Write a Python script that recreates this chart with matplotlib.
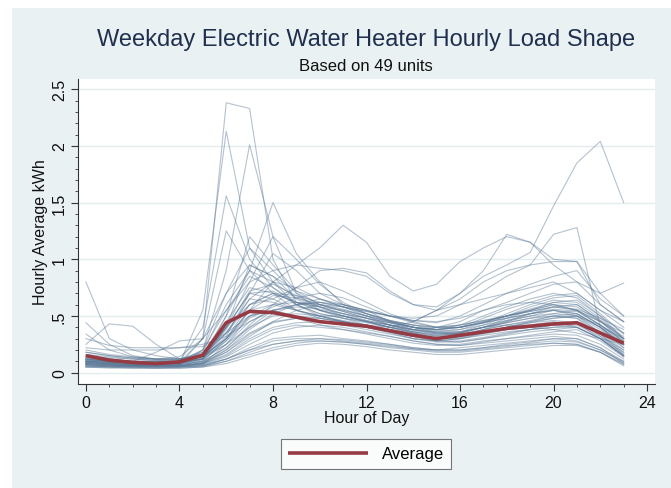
import matplotlib
matplotlib.use("Agg")
import matplotlib.pyplot as plt
from matplotlib.patches import Rectangle

hours = list(range(24))

# Individual units (hourly average kWh)
u01 = [0.12,0.10,0.09,0.08,0.09,0.30,2.38,2.33,1.00,0.62,0.55,0.50,0.45,0.40,0.35,0.30,0.32,0.38,0.42,0.45,0.48,0.50,0.35,0.20]
u02 = [0.10,0.08,0.07,0.07,0.08,0.55,2.13,1.10,0.80,0.60,0.50,0.45,0.40,0.35,0.30,0.28,0.30,0.35,0.40,0.42,0.45,0.40,0.30,0.18]
u03 = [0.09,0.08,0.07,0.07,0.07,0.20,0.90,2.01,1.20,0.70,0.55,0.48,0.42,0.38,0.33,0.30,0.32,0.36,0.40,0.45,0.50,0.48,0.32,0.20]
u04 = [0.11,0.09,0.08,0.08,0.10,0.40,1.56,1.00,0.75,0.62,0.58,0.50,0.45,0.40,0.36,0.33,0.35,0.40,0.45,0.50,0.55,0.52,0.40,0.25]
u05 = [0.08,0.07,0.06,0.06,0.07,0.30,1.25,0.90,0.70,0.55,0.50,0.45,0.42,0.36,0.30,0.28,0.30,0.34,0.38,0.40,0.42,0.44,0.30,0.15]
u06 = [0.10,0.09,0.08,0.08,0.09,0.15,0.50,0.90,1.50,1.05,0.80,0.60,0.55,0.45,0.40,0.38,0.40,0.45,0.50,0.55,0.60,0.55,0.45,0.30]
u07 = [0.80,0.30,0.20,0.15,0.12,0.14,0.30,0.55,0.60,0.55,0.50,0.45,0.40,0.38,0.35,0.32,0.35,0.40,0.42,0.40,0.38,0.35,0.30,0.25]
u08 = [0.25,0.43,0.41,0.25,0.12,0.15,0.40,0.70,0.65,0.55,0.50,0.50,0.45,0.40,0.38,0.40,0.45,0.55,0.60,0.62,0.60,0.55,0.45,0.35]
u09 = [0.15,0.12,0.10,0.10,0.10,0.12,0.25,0.40,0.55,0.60,0.65,0.60,0.55,0.50,0.45,0.55,0.70,0.85,0.95,1.06,1.47,1.85,2.04,1.50]
u10 = [0.12,0.10,0.09,0.09,0.10,0.15,0.35,0.50,0.55,0.50,0.48,0.45,0.42,0.40,0.45,0.55,0.65,0.80,0.90,0.95,1.22,1.28,0.40,0.25]
u11 = [0.18,0.15,0.13,0.12,0.12,0.15,0.30,0.55,0.80,0.95,1.10,1.30,1.15,0.85,0.72,0.78,0.98,1.10,1.20,1.15,0.95,0.80,0.60,0.45]
u12 = [0.15,0.12,0.10,0.10,0.10,0.18,0.40,0.60,0.65,0.75,0.90,0.92,0.88,0.72,0.60,0.58,0.70,0.90,1.22,1.15,1.00,0.98,0.60,0.45]
b01 = [0.08,0.07,0.06,0.06,0.06,0.08,0.20,0.35,0.45,0.48,0.45,0.42,0.40,0.36,0.32,0.28,0.27,0.30,0.33,0.36,0.38,0.40,0.30,0.15]
b02 = [0.06,0.05,0.05,0.05,0.05,0.06,0.12,0.22,0.30,0.32,0.33,0.30,0.28,0.25,0.22,0.20,0.22,0.24,0.26,0.28,0.30,0.28,0.20,0.10]
b03 = [0.10,0.08,0.07,0.07,0.07,0.10,0.30,0.60,0.70,0.62,0.55,0.50,0.45,0.40,0.36,0.33,0.34,0.38,0.42,0.46,0.50,0.52,0.40,0.22]
b04 = [0.12,0.10,0.09,0.09,0.10,0.20,0.55,0.85,0.75,0.60,0.52,0.48,0.44,0.40,0.35,0.30,0.31,0.35,0.40,0.44,0.48,0.50,0.38,0.25]
b05 = [0.05,0.05,0.04,0.04,0.04,0.05,0.10,0.18,0.25,0.28,0.30,0.29,0.27,0.25,0.22,0.20,0.20,0.22,0.25,0.27,0.30,0.30,0.22,0.08]
b06 = [0.15,0.13,0.12,0.11,0.11,0.14,0.25,0.45,0.55,0.58,0.56,0.52,0.48,0.44,0.40,0.37,0.38,0.42,0.46,0.50,0.52,0.50,0.42,0.30]
b07 = [0.09,0.08,0.07,0.07,0.08,0.12,0.40,0.95,0.85,0.65,0.55,0.50,0.46,0.42,0.38,0.35,0.36,0.40,0.44,0.48,0.52,0.55,0.42,0.28]
b08 = [0.07,0.06,0.06,0.06,0.06,0.08,0.15,0.28,0.38,0.42,0.40,0.38,0.35,0.32,0.28,0.25,0.25,0.28,0.30,0.32,0.34,0.33,0.25,0.12]
b09 = [0.20,0.16,0.14,0.12,0.12,0.16,0.35,0.65,0.80,0.75,0.65,0.58,0.52,0.46,0.42,0.38,0.40,0.45,0.50,0.55,0.60,0.58,0.45,0.32]
b10 = [0.08,0.07,0.06,0.06,0.07,0.10,0.22,0.40,0.50,0.52,0.50,0.46,0.42,0.38,0.34,0.30,0.30,0.33,0.36,0.38,0.40,0.42,0.32,0.16]
b11 = [0.11,0.10,0.09,0.08,0.09,0.13,0.32,0.70,1.05,0.90,0.70,0.60,0.52,0.45,0.40,0.36,0.36,0.40,0.44,0.48,0.50,0.48,0.36,0.22]
b12 = [0.06,0.06,0.05,0.05,0.05,0.07,0.14,0.25,0.35,0.40,0.42,0.40,0.36,0.32,0.28,0.25,0.24,0.26,0.28,0.30,0.32,0.30,0.22,0.10]
b13 = [0.14,0.12,0.10,0.10,0.10,0.15,0.45,0.75,0.70,0.62,0.58,0.55,0.50,0.45,0.40,0.38,0.42,0.50,0.58,0.65,0.70,0.66,0.50,0.35]
b14 = [0.09,0.08,0.07,0.07,0.07,0.09,0.18,0.32,0.45,0.55,0.60,0.58,0.52,0.46,0.40,0.35,0.34,0.36,0.40,0.44,0.46,0.44,0.34,0.18]
b15 = [0.07,0.06,0.06,0.05,0.06,0.08,0.25,0.50,0.55,0.48,0.42,0.38,0.34,0.30,0.26,0.24,0.24,0.27,0.30,0.33,0.36,0.38,0.28,0.14]
b16 = [0.13,0.11,0.10,0.09,0.10,0.20,0.70,1.10,0.90,0.70,0.60,0.54,0.48,0.42,0.37,0.34,0.35,0.40,0.46,0.52,0.56,0.54,0.42,0.28]
b17 = [0.05,0.04,0.04,0.04,0.04,0.05,0.08,0.14,0.20,0.24,0.26,0.25,0.23,0.20,0.18,0.16,0.16,0.18,0.20,0.22,0.24,0.24,0.18,0.07]
b18 = [0.10,0.09,0.08,0.08,0.08,0.11,0.28,0.55,0.68,0.66,0.60,0.55,0.50,0.44,0.38,0.34,0.35,0.40,0.48,0.55,0.62,0.64,0.50,0.30]
b19 = [0.16,0.14,0.12,0.11,0.11,0.14,0.30,0.50,0.60,0.62,0.60,0.56,0.50,0.45,0.42,0.40,0.42,0.46,0.50,0.54,0.58,0.56,0.48,0.38]
b20 = [0.08,0.07,0.06,0.06,0.06,0.09,0.20,0.38,0.52,0.60,0.62,0.58,0.50,0.42,0.36,0.32,0.32,0.35,0.38,0.40,0.42,0.40,0.30,0.14]
b21 = [0.12,0.10,0.09,0.09,0.09,0.12,0.50,1.20,0.95,0.72,0.60,0.54,0.48,0.42,0.38,0.35,0.36,0.42,0.50,0.58,0.64,0.62,0.48,0.30]
b22 = [0.06,0.05,0.05,0.05,0.05,0.06,0.12,0.20,0.28,0.30,0.30,0.28,0.26,0.24,0.21,0.19,0.19,0.21,0.23,0.26,0.28,0.27,0.20,0.09]
b23 = [0.09,0.08,0.07,0.07,0.08,0.12,0.35,0.65,0.62,0.55,0.48,0.44,0.40,0.36,0.32,0.30,0.32,0.38,0.45,0.52,0.58,0.60,0.46,0.26]
b24 = [0.11,0.10,0.09,0.08,0.09,0.13,0.28,0.48,0.58,0.66,0.70,0.66,0.58,0.50,0.44,0.40,0.40,0.44,0.50,0.56,0.62,0.60,0.46,0.30]
b25 = [0.07,0.06,0.06,0.06,0.06,0.08,0.16,0.30,0.40,0.44,0.45,0.42,0.38,0.34,0.30,0.27,0.27,0.30,0.34,0.38,0.42,0.44,0.34,0.16]
b26 = [0.18,0.15,0.13,0.12,0.12,0.18,0.60,0.90,0.80,0.66,0.58,0.52,0.48,0.44,0.40,0.38,0.40,0.48,0.56,0.62,0.68,0.70,0.55,0.40]
b27 = [0.05,0.05,0.05,0.04,0.05,0.06,0.10,0.16,0.22,0.26,0.28,0.27,0.25,0.22,0.20,0.18,0.18,0.20,0.22,0.24,0.26,0.25,0.18,0.06]
b28 = [0.10,0.09,0.08,0.08,0.08,0.10,0.22,0.42,0.60,0.75,0.80,0.72,0.62,0.52,0.45,0.40,0.40,0.44,0.48,0.52,0.55,0.52,0.40,0.24]
b29 = [0.13,0.11,0.10,0.10,0.10,0.14,0.38,0.72,0.78,0.68,0.58,0.52,0.46,0.42,0.38,0.36,0.38,0.44,0.52,0.60,0.66,0.68,0.52,0.34]
b30 = [0.08,0.07,0.06,0.06,0.06,0.08,0.18,0.34,0.44,0.48,0.48,0.45,0.40,0.36,0.32,0.28,0.28,0.31,0.35,0.38,0.40,0.40,0.30,0.15]
b31 = [0.30,0.24,0.22,0.22,0.22,0.23,0.35,0.60,0.70,0.68,0.62,0.58,0.54,0.50,0.46,0.45,0.48,0.55,0.62,0.70,0.78,0.80,0.70,0.79]
b32 = [0.44,0.25,0.15,0.12,0.12,0.16,0.40,0.70,0.72,0.60,0.52,0.48,0.45,0.42,0.40,0.38,0.40,0.44,0.48,0.52,0.55,0.50,0.40,0.30]
b33 = [0.34,0.20,0.14,0.12,0.14,0.30,0.70,0.95,0.85,0.72,0.65,0.58,0.54,0.50,0.48,0.50,0.60,0.72,0.85,0.95,0.98,0.98,0.70,0.50]
b34 = [0.12,0.10,0.10,0.18,0.28,0.30,0.55,0.80,0.90,0.95,0.92,0.90,0.85,0.70,0.60,0.55,0.60,0.65,0.70,0.75,0.80,0.70,0.55,0.45]
b35 = [0.22,0.20,0.20,0.20,0.22,0.25,0.32,0.45,0.55,0.60,0.62,0.60,0.55,0.50,0.46,0.44,0.50,0.60,0.70,0.78,0.85,0.90,0.65,0.50]
b36 = [0.07,0.06,0.06,0.06,0.06,0.07,0.12,0.20,0.25,0.28,0.28,0.27,0.25,0.23,0.21,0.20,0.20,0.22,0.24,0.25,0.26,0.25,0.18,0.08]
b37 = [0.10,0.09,0.08,0.08,0.09,0.12,0.40,0.80,1.20,1.00,0.78,0.62,0.52,0.46,0.42,0.40,0.42,0.46,0.50,0.54,0.58,0.55,0.42,0.26]

units = [u01,u02,u03,u04,u05,u06,u07,u08,u09,u10,u11,u12,
         b01,b02,b03,b04,b05,b06,b07,b08,b09,b10,b11,b12,b13,b14,b15,b16,b17,b18,
         b19,b20,b21,b22,b23,b24,b25,b26,b27,b28,b29,b30,b31,b32,b33,b34,b35,b36,b37]

average = [0.15,0.11,0.09,0.08,0.095,0.155,0.44,0.54,0.53,0.49,0.45,0.43,0.41,0.37,0.33,0.30,0.33,0.36,0.39,0.41,0.43,0.44,0.35,0.26]

xticks = [0, 4, 8, 12, 16, 20, 24]
yticks = [0, 0.5, 1, 1.5, 2, 2.5]
ytick_labels = ["0", ".5", "1", "1.5", "2", "2.5"]

plt.rcParams['font.family'] = ['Liberation Sans', 'DejaVu Sans']

W, H = 671, 489
fig = plt.figure(figsize=(W/100, H/100), dpi=100, facecolor='white')
bg = '#eaf1f3'
fig.patches.append(Rectangle((12/W, 0), 1 - 12/W, 1 - 9/H, transform=fig.transFigure,
                             facecolor=bg, edgecolor='none', zorder=-10))

ax = fig.add_axes([78/W, 1 - 385/H, 577/W, 305/H])
ax.set_facecolor('white')

for u in units:
    ax.plot(hours, u, color='#5a7896', alpha=0.45, lw=0.8, zorder=2)
ax.plot(hours, average, color='#963a43', lw=2.6, zorder=3, label='Average', solid_capstyle='butt')

ax.set_xlim(-0.34, 24.34)
ax.set_ylim(-0.1, 2.59)
ax.set_xticks(xticks)
ax.set_xticks(range(0, 25), minor=True)
ax.set_yticks(yticks)
ax.set_yticklabels(ytick_labels, rotation=90, va='center')
ax.set_yticks([i/10 for i in range(0, 26)], minor=True)
ax.grid(axis='y', which='major', color='#e3ecef', lw=1.0, zorder=0)
ax.set_axisbelow(True)

for s in ['top', 'right']:
    ax.spines[s].set_visible(False)
for s in ['left', 'bottom']:
    ax.spines[s].set_color('#333333')
    ax.spines[s].set_linewidth(0.8)
ax.tick_params(axis='both', which='major', length=5, width=0.8, color='#333333',
               labelsize=11.5, labelcolor='#111111', pad=3)
ax.tick_params(axis='both', which='minor', length=2.5, width=0.6, color='#333333')

ax.set_xlabel('Hour of Day', fontsize=11.5, color='#111111', labelpad=0)
ax.set_ylabel('Hourly Average kWh', fontsize=11.5, color='#111111', labelpad=3)

fig.text(366/W, 1 - 40/H, 'Weekday Electric Water Heater Hourly Load Shape',
         ha='center', va='center', fontsize=17, color='#1f2f4f')
fig.text(366/W, 1 - 67/H, 'Based on 49 units', ha='center', va='center',
         fontsize=12, color='#111111')

leg = fig.legend(loc='center', bbox_to_anchor=(366/W, 1 - 455/H), fontsize=12,
                 frameon=True, fancybox=False, edgecolor='#555555', handlelength=4.8,
                 borderpad=0.45, handletextpad=0.8, borderaxespad=0)
leg.get_frame().set_linewidth(0.8)
leg.get_frame().set_facecolor('white')

fig.savefig('out.png', dpi=100, facecolor=fig.get_facecolor())
